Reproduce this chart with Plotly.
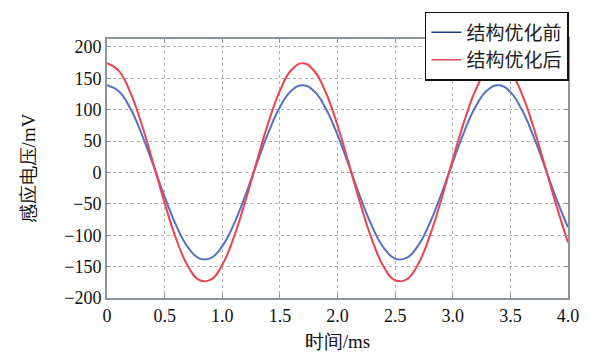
import plotly.graph_objects as go

time_ms = [round(i * 0.1, 1) for i in range(41)]
before_mv = [139, 129.6, 102.6, 61.6, 12.3, -38.6, -84.3, -118.6, -136.8, -136.4,
             -117.5, -82.7, -36.7, 14.4, 63.4, 103.9, 130.3, 139.0, 128.8, 101.2,
             59.8, 10.3, -40.6, -86.0, -119.7, -137.2, -136.0, -116.4, -81.1, -34.7,
             16.4, 65.2, 105.3, 131.0, 138.9, 128.0, 99.8, 57.9, 8.2, -42.5, -87.6]
after_mv = [174, 162.2, 128.4, 77.2, 15.5, -48.4, -105.6, -148.5, -171.3, -170.8,
            -147.1, -103.5, -45.9, 18.0, 79.3, 130.1, 163.1, 174.0, 161.2, 126.6,
            74.8, 12.9, -50.8, -107.6, -149.8, -171.7, -170.3, -145.8, -101.5, -43.4,
            20.6, 81.7, 131.8, 164.0, 173.9, 160.3, 124.9, 72.4, 10.3, -53.2, -111.6]
series_names = ["结构优化前", "结构优化后"]
x_ticks = [0, 0.5, 1.0, 1.5, 2.0, 2.5, 3.0, 3.5, 4.0]
x_tick_text = ["0", "0.5", "1.0", "1.5", "2.0", "2.5", "3.0", "3.5", "4.0"]
y_ticks = [-200, -150, -100, -50, 0, 50, 100, 150, 200]

line_cols = ["#5470c6", "#f0424c"]
legend_cols = ["#1b3b8c", "#e0474f"]
serif = "Liberation Serif"

fig = go.Figure()
for ys, c in zip([before_mv, after_mv], line_cols):
    fig.add_trace(go.Scatter(x=time_ms, y=ys, mode="lines", showlegend=False,
                             line=dict(color=c, width=2, shape="spline", smoothing=1.3)))
for name, c in zip(series_names, legend_cols):
    fig.add_trace(go.Scatter(x=[None], y=[None], mode="lines", name=name,
                             line=dict(color=c, width=1.5)))

axis_common = dict(showline=True, linecolor="#8d949c", linewidth=2, mirror="ticks",
                   ticks="inside", ticklen=4, tickcolor="#8d949c",
                   showgrid=True, gridcolor="#a9b0b8", griddash="dot", gridwidth=1,
                   zeroline=False, tickfont=dict(family=serif, size=18, color="#111"))

fig.update_layout(
    width=590, height=363,
    margin=dict(l=107, r=22, t=37, b=65),
    paper_bgcolor="white", plot_bgcolor="white",
    font=dict(family=serif),
    xaxis=dict(range=[0, 4], tickvals=x_ticks, ticktext=x_tick_text,
               title=dict(text="时间/ms", font=dict(family=serif, size=19, color="#111"), standoff=10),
               **axis_common),
    yaxis=dict(range=[-200, 212.6], tickvals=y_ticks,
               title=dict(text="感应电压/mV", font=dict(family=serif, size=19, color="#111"), standoff=24),
               **axis_common),
    legend=dict(x=1.002, xanchor="right", y=1.105, yanchor="top",
                bgcolor="white", bordercolor="#111", borderwidth=1.5,
                font=dict(family="Noto Sans CJK SC", size=19, color="#222"),
                tracegroupgap=0, itemwidth=30),
    showlegend=True,
)

fig.write_html("out.html")
